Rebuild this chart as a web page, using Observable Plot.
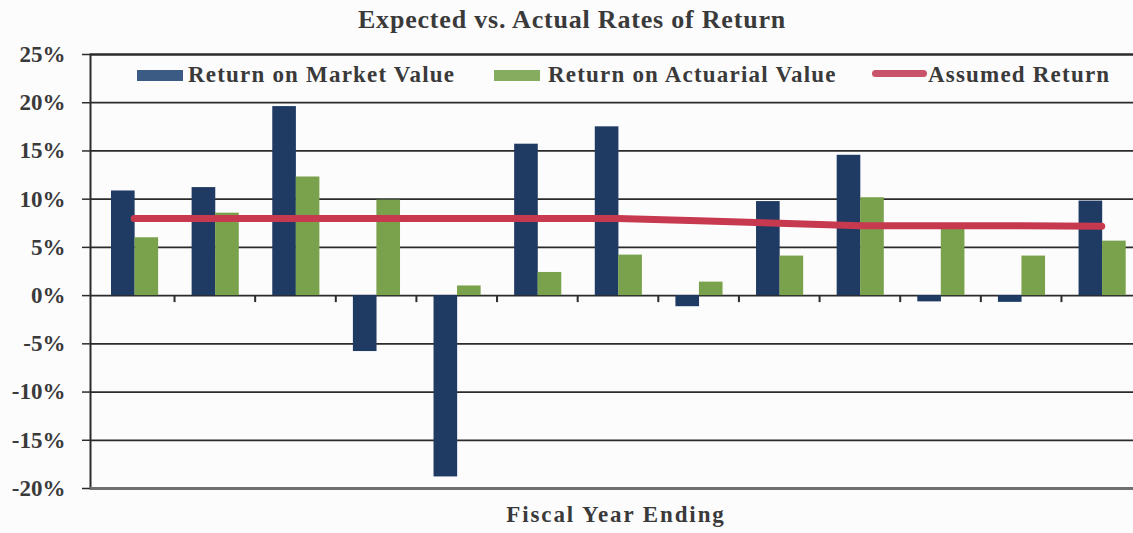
<!DOCTYPE html>
<html>
<head>
<meta charset="utf-8">
<script src="https://cdn.jsdelivr.net/npm/d3@7"></script>
<script src="https://cdn.jsdelivr.net/npm/@observablehq/plot@0.6"></script>
<style>
  html, body { margin: 0; padding: 0; background: #fdfcfd; }
  #wrap { position: relative; width: 1133px; height: 533px; overflow: hidden; font-family: "Liberation Serif", "Times New Roman", serif; color: #3a3a3a; }
  #title { height: 40px; line-height: 40px; font-size: 26px; font-weight: bold; letter-spacing: 0.8px; text-align: center; padding-left: 11px; box-sizing: border-box; width: 1133px; }
  #xlabel { height: 38px; line-height: 40px; font-size: 23px; font-weight: bold; letter-spacing: 1.9px; text-align: center; padding-left: 99px; box-sizing: border-box; width: 1133px; }
  .sw { position: absolute; }
  .lt { position: absolute; font-size: 23px; line-height: 23px; font-weight: bold; letter-spacing: 1.2px; white-space: nowrap; }
</style>
</head>
<body>
<div id="wrap">
  <div id="title"></div>
  <div id="chart"></div>
  <div id="xlabel"></div>
</div>
<script>
// ---- data ----
const titleText = "Expected vs. Actual Rates of Return";
const xLabelText = "Fiscal Year Ending";
const categories = ["Y1","Y2","Y3","Y4","Y5","Y6","Y7","Y8","Y9","Y10","Y11","Y12","Y13"];
const seriesNames = ["Return on Market Value", "Return on Actuarial Value", "Assumed Return"];
const marketReturn = [10.85, 11.2, 19.6, -5.8, -18.8, 15.7, 17.5, -1.15, 9.75, 14.55, -0.65, -0.7, 9.8];
const actuarialReturn = [6.0, 8.55, 12.3, 9.9, 1.0, 2.4, 4.2, 1.4, 4.1, 10.15, 6.9, 4.1, 5.65];
const assumedReturn = [8.0, 8.0, 8.0, 8.0, 8.0, 8.0, 8.0, 7.75, 7.5, 7.25, 7.25, 7.25, 7.2];
const yTicks = [-20, -15, -10, -5, 0, 5, 10, 15, 20, 25];

// ---- styles ----
const colBlue = "#1f3a63", colGreen = "#7aa24c", colRed = "#c6394f";
const gridCol = "#2b2b2b";
const band = 80.63;

const table = categories.map((c, i) => ({
  cat: c, market: marketReturn[i], actuarial: actuarialReturn[i], assumed: assumedReturn[i]
}));

document.getElementById("title").textContent = titleText;
document.getElementById("xlabel").textContent = xLabelText;

const chart = Plot.plot({
  width: 1133,
  height: 455,
  marginTop: 14,
  marginBottom: 7,
  marginLeft: 90,
  marginRight: -3,
  style: {
    background: "transparent",
    fontFamily: "'Liberation Serif', 'Times New Roman', serif",
    fontSize: "23px",
    fontWeight: "bold",
    color: "#3a3a3a",
    overflow: "visible"
  },
  x: { type: "band", domain: categories, range: [93.4, 93.4 + band * categories.length], padding: 0, round: false, axis: null },
  y: { domain: [-20, 25] },
  marks: [
    Plot.ruleY(yTicks, { stroke: gridCol, strokeWidth: 1.8 }),
    Plot.frame({ stroke: gridCol, strokeWidth: 2 }),
    Plot.ruleY([-20], { stroke: "#707070", strokeWidth: 3 }),
    Plot.barY(table, { x: "cat", y: "market", fill: colBlue, insetLeft: 17.6, insetRight: 39.4 }),
    Plot.barY(table, { x: "cat", y: "actuarial", fill: colGreen, insetLeft: 41.1, insetRight: 15.9 }),
    Plot.ruleX(categories.slice(1), { x: d => d, y1: 0, y2: 0, insetBottom: -7, dx: -band / 2, stroke: gridCol, strokeWidth: 2 }),
    Plot.line(table, { x: "cat", y: "assumed", stroke: colRed, strokeWidth: 7, strokeLinecap: "round", strokeLinejoin: "round" }),
    Plot.axisY(yTicks, { tickSize: 8, tickPadding: 17, tickFormat: d => d + "%", label: null, stroke: gridCol, strokeWidth: 1.5 })
  ]
});
document.getElementById("chart").appendChild(chart);

// ---- legend (HTML, inside plot area) ----
const wrap = document.getElementById("wrap");
const legendItems = [
  { name: seriesNames[0], kind: "box", color: "#3c5b84", swLeft: 137, textLeft: 188 },
  { name: seriesNames[1], kind: "box", color: "#86ad5f", swLeft: 494, textLeft: 548 },
  { name: seriesNames[2], kind: "line", color: "#c9536a", swLeft: 872, textLeft: 928 }
];
for (const it of legendItems) {
  const sw = document.createElement("div");
  sw.className = "sw";
  sw.style.left = it.swLeft + "px";
  sw.style.background = it.color;
  if (it.kind === "box") {
    sw.style.top = "70px"; sw.style.width = "46px"; sw.style.height = "11px";
  } else {
    sw.style.top = "70px"; sw.style.width = "55px"; sw.style.height = "7px"; sw.style.borderRadius = "4px";
  }
  wrap.appendChild(sw);
  const t = document.createElement("div");
  t.className = "lt";
  t.style.left = it.textLeft + "px";
  t.style.top = "63px";
  t.textContent = it.name;
  wrap.appendChild(t);
}
</script>
</body>
</html>
